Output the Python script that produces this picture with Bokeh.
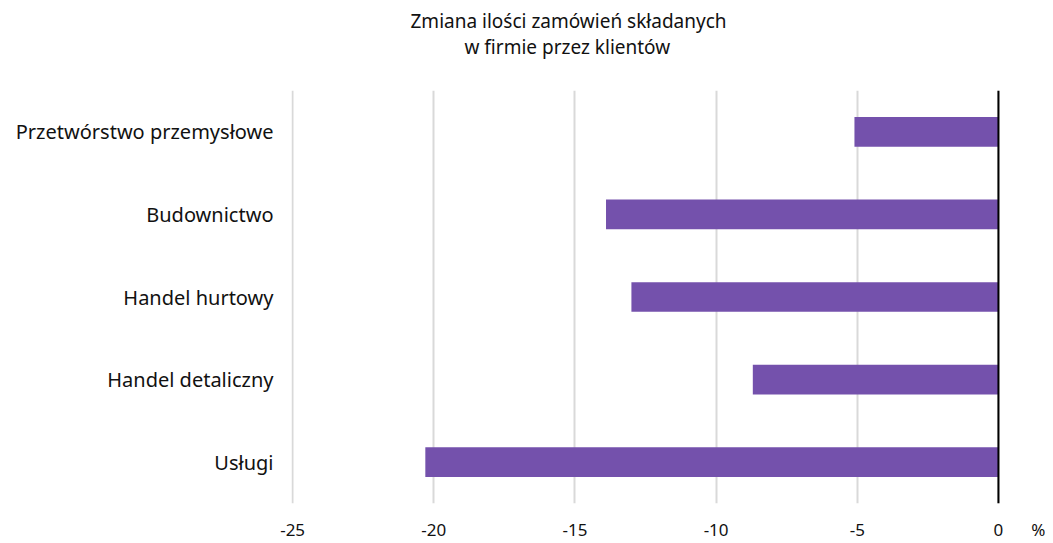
from bokeh.plotting import figure
from bokeh.models import Range1d, FactorRange, Span, FixedTicker, ColumnDataSource, Title, CustomJSTickFormatter
from bokeh.embed import file_html
from bokeh.resources import INLINE

categories = ["Przetwórstwo przemysłowe", "Budownictwo", "Handel hurtowy", "Handel detaliczny", "Usługi"]
values = [-5.1, -13.9, -13.0, -8.7, -20.3]
ticks = [-25, -20, -15, -10, -5, 0]
title_lines = ["Zmiana ilości zamówień składanych", "w firmie przez klientów"]
unit_label = "%"
unit_pos = 1.6

FONT = "Noto Sans"
BAR = "#7451ac"
TXT = "#111111"

src = ColumnDataSource(dict(cat=categories, val=values, zero=[0] * len(values)))

p = figure(width=1045, height=543, output_backend="svg", toolbar_location=None,
           x_range=Range1d(-25.04, 1.667),
           y_range=FactorRange(factors=list(reversed(categories))),
           min_border_left=291, min_border_right=0, min_border_top=90, min_border_bottom=37)
p.title = None
p.outline_line_color = None
p.background_fill_color = "white"
p.border_fill_color = "white"

p.hbar(y="cat", left="val", right="zero", height=0.36, source=src,
       fill_color=BAR, line_color=None)

p.xaxis.ticker = FixedTicker(ticks=ticks + [unit_pos])
p.xaxis.formatter = CustomJSTickFormatter(
    args=dict(u=unit_label, up=unit_pos),
    code="return Math.abs(tick - up) < 1e-6 ? u : String(Math.round(tick));")
p.xaxis.axis_line_color = None
p.xaxis.major_tick_line_color = None
p.xaxis.minor_tick_line_color = None
p.xaxis.major_tick_out = 0
p.xaxis.major_tick_in = 0
p.xaxis.minor_tick_out = 0
p.xaxis.major_label_text_font = FONT
p.xaxis.major_label_text_font_size = "17px"
p.xaxis.major_label_text_color = TXT
p.xaxis.major_label_standoff = 14

p.yaxis.axis_line_color = None
p.yaxis.major_tick_line_color = None
p.yaxis.minor_tick_line_color = None
p.yaxis.major_tick_out = 0
p.yaxis.major_tick_in = 0
p.yaxis.minor_tick_out = 0
p.yaxis.major_label_text_font = FONT
p.yaxis.major_label_text_font_size = "20px"
p.yaxis.major_label_text_color = TXT
p.yaxis.major_label_standoff = 18

p.xgrid.ticker = FixedTicker(ticks=ticks)
p.xgrid.grid_line_color = "#d9d9d9"
p.xgrid.grid_line_width = 2
p.ygrid.grid_line_color = None

p.add_layout(Span(location=0, dimension="height", line_color="black", line_width=2))

p.add_layout(Title(text=title_lines[1], align="left", offset=173, text_font=FONT,
                   text_font_size="19px", text_font_style="normal", text_color=TXT,
                   standoff=62), "above")
p.add_layout(Title(text=title_lines[0], align="left", offset=119, text_font=FONT,
                   text_font_size="19px", text_font_style="normal", text_color=TXT,
                   standoff=-66), "above")

open("out.html", "w").write(file_html(p, INLINE))
